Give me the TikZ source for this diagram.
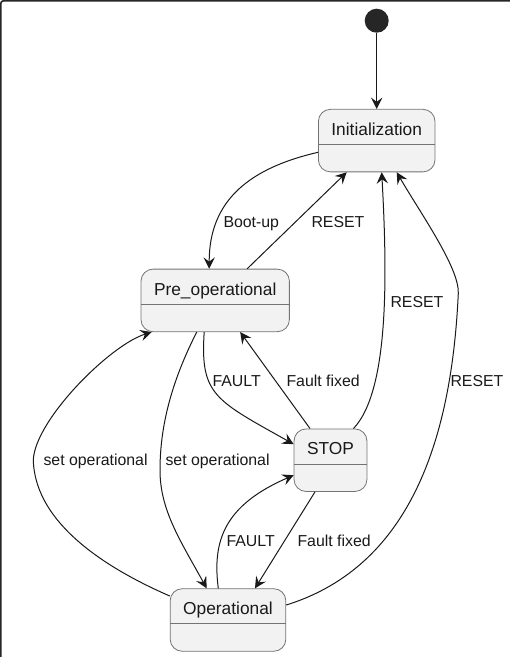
\documentclass[tikz,border=0pt]{standalone}
\usepackage{fontspec}
\setmainfont{Liberation Sans}
\usetikzlibrary{positioning,calc,arrows.meta}
\tikzset{
  state/.style={draw=black!55, fill=gray!10, rounded corners=9pt, line width=0.6pt,
    font=\fontsize{13}{15}\selectfont, text=black!90, inner xsep=9.75pt, inner ysep=0pt,
    text height=19.5pt, text depth=27.4pt,
    path picture={\draw[black!55,line width=0.6pt] ([yshift=-26.25pt]path picture bounding box.north west) -- ([yshift=-26.25pt]path picture bounding box.north east);}},
  lbl/.style={font=\fontsize{11.9}{14}\selectfont, text=black!90, inner sep=0pt, text height=8.5pt, text depth=0pt, anchor=west},
}
\begin{document}
\begin{tikzpicture}[x=0.75pt,y=-0.75pt,line width=0.75pt,>={Stealth[length=8.5pt,width=8.5pt,inset=3.2pt]}]
\useasboundingbox (0,0) rectangle (510,657);
\draw[black!85,line width=1.2pt,rounded corners=2pt] (0.8,657) -- (0.8,0.8) -- (510,0.8);

\node[circle,fill=black!85,minimum size=18pt,inner sep=0pt] (start) at (376.7,20.7) {};
\node[state] (init) at (376.7,140.6) {Initialization};
\node[state] (pre) at (215.2,300.4) {Pre\_operational};
\node[state] (stop) at (330.5,460.2) {STOP};
\node[state] (op) at (228,620) {Operational};

\draw[->,black!90] (start) -- (init);
\draw[->,black!90] ($(init.west)+(0,11.7)$) .. controls (250,168) and (209,200) .. ($(pre.north)+(-6,0)$);
\draw[->,black!90] ($(pre.north)+(32,0)$) -- ($(init.south)+(-30,0)$);
\draw[->,black!90] ($(stop.north)+(23,0)$) .. controls (390,390) and (387,270) .. ($(init.south)+(5,0)$);
\draw[->,black!90] ($(op.east)+(0,-15)$) .. controls (415,565) and (452,430) .. (458.3,293.3) .. controls (459.4,268) and (420.7,213.5) .. ($(init.south)+(20,0)$);
\draw[->,black!90] ($(pre.south)+(-11,0)$) .. controls (200,395) and (215,400) .. ($(stop.west)+(0,-16)$);
\draw[->,black!90] ($(stop.north)+(-20.5,0)$) -- ($(pre.south)+(25,0)$);
\draw[->,black!90] ($(op.west)+(0,-24)$) .. controls (110,570) and (35,525) .. (33.3,460) .. controls (35,420) and (110,345) .. ($(pre.south)+(-63.5,0)$);
\draw[->,black!90] ($(pre.south)+(-18.5,0)$) .. controls (175,375) and (160,420) .. (160,470) .. controls (160,510) and (180,540) .. ($(op.north)+(-21.3,0)$);
\draw[->,black!90] ($(op.north)+(-9.7,0)$) .. controls (212,540) and (225,505) .. ($(stop.west)+(0,15)$);
\draw[->,black!90] ($(stop.south)+(-15.5,0)$) -- ($(op.north)+(27,0)$);

\node[lbl] (lbootup) at (223,222) {Boot-up};
\node[lbl] (lreseta) at (311,222) {RESET};
\node[lbl] (lresetb) at (390,302) {RESET};
\node[lbl] (lresetc) at (450,381) {RESET};
\node[lbl] (lfaulta) at (212,381) {FAULT};
\node[lbl] (lfixeda) at (286,381) {Fault fixed};
\node[lbl] (lsetopa) at (43,460) {set operational};
\node[lbl] (lsetopb) at (165,460) {set operational};
\node[lbl] (lfaultb) at (226,541) {FAULT};
\node[lbl] (lfixedb) at (297,541) {Fault fixed};
\end{tikzpicture}
\end{document}
